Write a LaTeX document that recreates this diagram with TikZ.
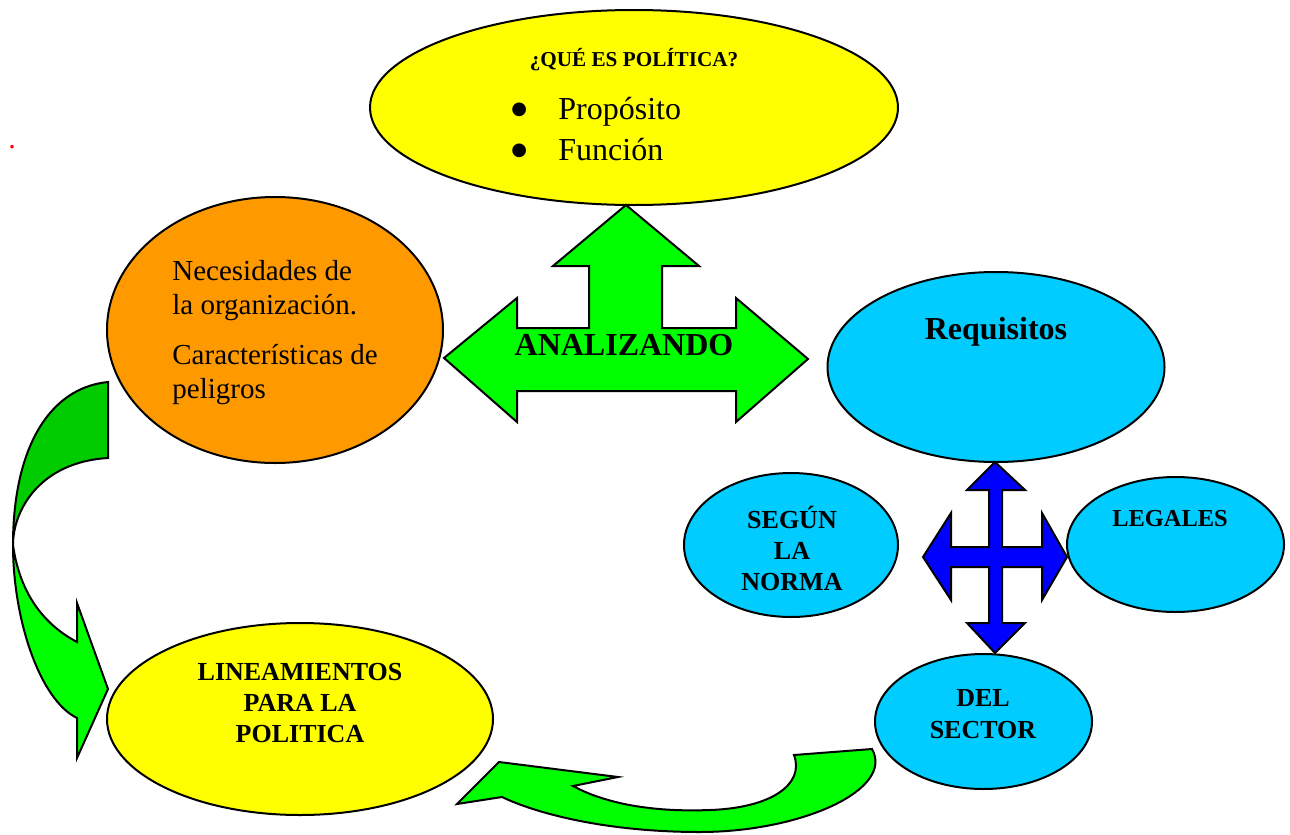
\documentclass[tikz,border=0pt]{standalone}
\usepackage{fontspec}
\setmainfont{Liberation Serif}
\newfontfamily\simbolos{DejaVu Sans}
\usetikzlibrary{positioning,shapes.geometric}

\definecolor{amarillo}{HTML}{FFFF00}
\definecolor{naranja}{HTML}{FF9900}
\definecolor{celeste}{HTML}{00CCFF}
\definecolor{verde}{HTML}{00FF00}
\definecolor{verdeosc}{HTML}{00CC00}
\definecolor{azul}{HTML}{0000FF}

\newcommand{\vineta}{\makebox[23.5pt][l]{\raisebox{2.3pt}{\simbolos\fontsize{9}{9}\selectfont ●}}}

\begin{document}
\begin{tikzpicture}[x=0.5pt,y=-0.5pt,
    burbuja/.style={ellipse, draw, line width=1pt, inner sep=0pt},
    flecha/.style={draw, line width=1pt, line join=miter},
    rotulo/.style={inner sep=0pt, align=center, font=\fontsize{13}{15.5}\selectfont\bfseries}]
    \useasboundingbox (0,0) rectangle (1290,835);

    % globos
    \node[burbuja, fill=amarillo, minimum width=264pt, minimum height=97.5pt] (quees) at (634,107.5) {};
    \node[burbuja, fill=naranja, minimum width=168pt, minimum height=133pt] (necesid) at (275,330) {};
    \node[burbuja, fill=celeste, minimum width=168.5pt, minimum height=95pt] (requis) at (996,367) {};
    \node[burbuja, fill=celeste, minimum width=107pt, minimum height=72pt] (segun) at (791,545) {};
    \node[burbuja, fill=celeste, minimum width=108.5pt, minimum height=67.5pt] (legales) at (1175.5,544.5) {};
    \node[burbuja, fill=celeste, minimum width=108.5pt, minimum height=67.5pt] (sector) at (983.5,721.5) {};
    \node[burbuja, fill=amarillo, minimum width=193pt, minimum height=96pt] (lineam) at (300,719) {};

    % flecha de tres puntas
    \draw[flecha, fill=verde] (444,358) -- (517,298) -- (517,328) -- (589,328) -- (589,266)
        -- (553,266) -- (626,205) -- (699,266) -- (662,266) -- (662,328) -- (736,328)
        -- (736,298) -- (808,359) -- (736,422) -- (736,391) -- (517,391) -- (517,422) -- cycle;

    % cruz azul
    \draw[flecha, fill=azul] (995,462) -- (1025,490) -- (1002,490) -- (1002,547) -- (1042,547)
        -- (1042,513) -- (1067,557) -- (1042,600) -- (1042,567) -- (1002,567) -- (1002,623)
        -- (1025,623) -- (995,653) -- (967,623) -- (989,623) -- (989,567) -- (951,567)
        -- (951,600) -- (923,557) -- (951,513) -- (951,547) -- (989,547) -- (989,490)
        -- (967,490) -- cycle;

    % flecha curva izquierda
    \draw[flecha, fill=verdeosc] (108,382) .. controls (48,388) and (13,450) .. (13,545)
        .. controls (13,510) and (40,462) .. (108,458) -- cycle;
    \draw[flecha, fill=verde] (13,545) .. controls (13,620) and (40,700) .. (77,718)
        -- (77,758) -- (108,689) -- (77,603) -- (77,642)
        .. controls (45,625) and (20,595) .. (13,545) -- cycle;

    % flecha curva inferior
    \draw[flecha, fill=verde] (794,755) -- (872,749)
        .. controls (895,790) and (800,832) .. (700,832)
        .. controls (610,832) and (540,815) .. (502,797)
        -- (457,804) -- (499,762) -- (618,777) -- (573,786)
        .. controls (610,806) and (660,812) .. (710,810)
        .. controls (770,808) and (805,785) .. (794,755) -- cycle;

    % textos
    \node[inner sep=0pt, font=\fontsize{10.6}{12}\selectfont\bfseries] (titulo) at (634,60) {¿QUÉ ES POLÍTICA?};
    \node[inner sep=0pt, anchor=west, align=left, font=\fontsize{16}{20.5}\selectfont] (items) at (511,129)
        {\vineta Propósito\\ \vineta Función};
    \node[inner sep=0pt, anchor=west, align=left, font=\fontsize{14.5}{17}\selectfont] (necestxt) at (172,333)
        {Necesidades de\\ la organización.\\[8pt] Características de\\ peligros};
    \node[inner sep=0pt, font=\fontsize{16}{18}\selectfont\bfseries] (analiz) at (624,345) {ANALIZANDO};
    \node[inner sep=0pt, font=\fontsize{16}{18}\selectfont\bfseries] (reqtxt) at (996,332) {Requisitos};
    \node[rotulo] (segtxt) at (792,548) {SEGÚN\\ LA\\ NORMA};
    \node[rotulo, font=\fontsize{12.2}{14}\selectfont\bfseries] (legtxt) at (1170,519) {LEGALES};
    \node[rotulo, font=\fontsize{13}{16}\selectfont\bfseries] (sectxt) at (983,714) {DEL\\ SECTOR};
    \node[rotulo] (lintxt) at (300,703) {LINEAMIENTOS\\ PARA LA\\ POLITICA};
    \node[inner sep=0pt, text=red, font=\fontsize{15}{15}\selectfont] (punto) at (12,147) {.};
\end{tikzpicture}
\end{document}
